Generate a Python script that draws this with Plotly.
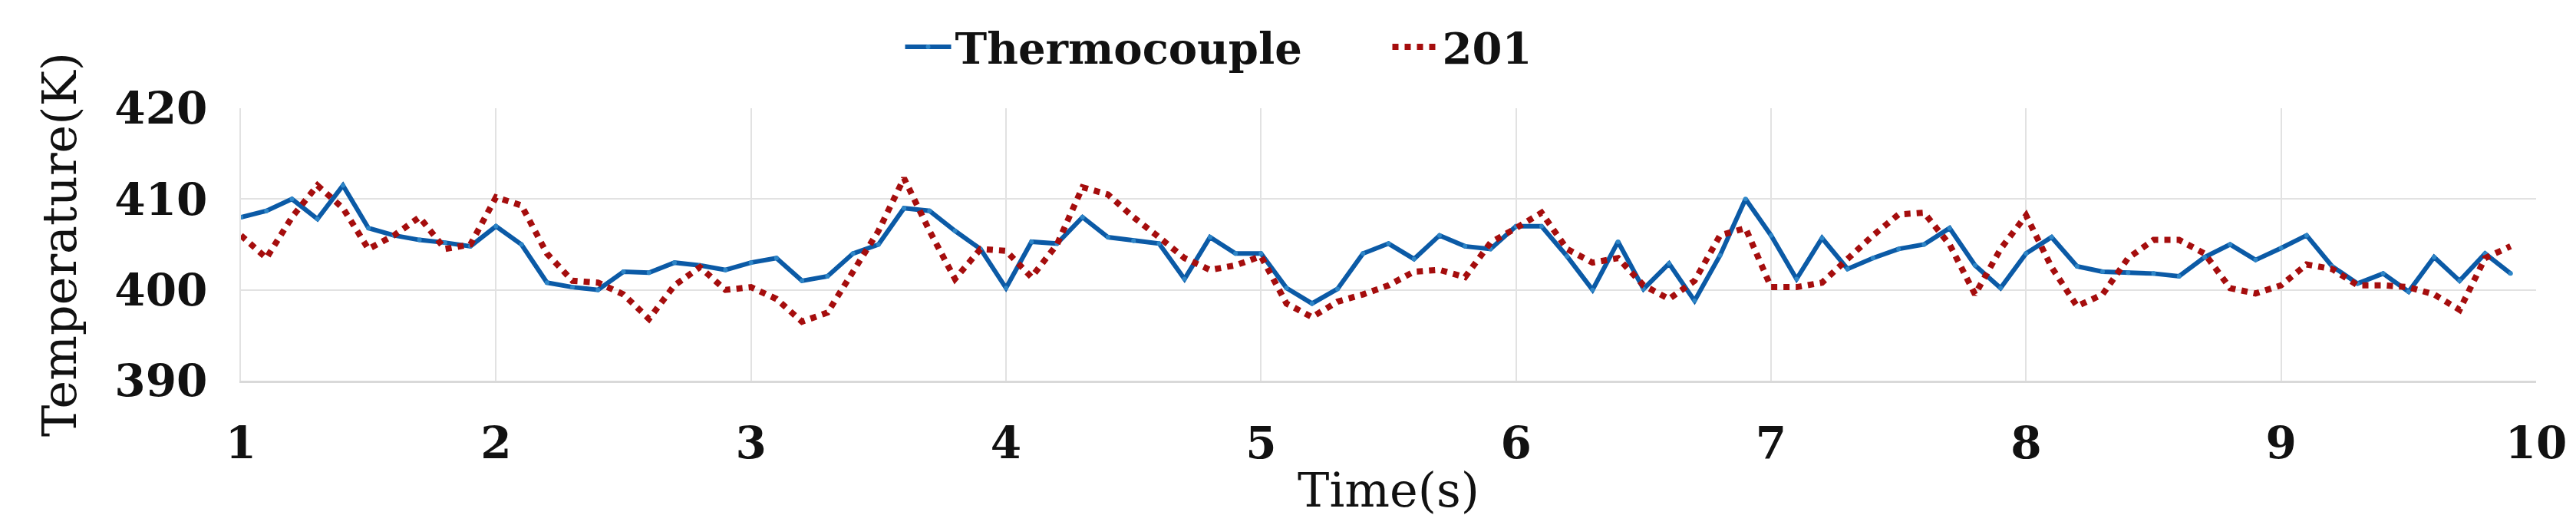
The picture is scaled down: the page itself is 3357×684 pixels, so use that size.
import plotly.graph_objects as go

time_s = [round(1 + 0.1 * i, 1) for i in range(90)]
thermocouple = [408, 408.7, 410, 407.8, 411.5, 406.8, 406, 405.5, 405.2, 404.8,
                407, 405, 400.8, 400.3, 400, 402, 401.9, 403, 402.7, 402.2,
                403, 403.5, 401, 401.5, 404, 405, 409, 408.7, 406.5, 404.5,
                400.2, 405.3, 405.1, 408, 405.8, 405.4, 405.1, 401.2, 405.8, 404,
                404, 400.2, 398.5, 400.1, 404, 405.1, 403.4, 406, 404.8, 404.5,
                407, 407, 403.7, 400, 405.3, 400.1, 402.9, 398.8, 403.8, 410,
                406, 401.2, 405.7, 402.3, 403.5, 404.5, 405, 406.8, 402.7, 400.2,
                404, 405.8, 402.6, 402, 401.9, 401.8, 401.5, 403.6, 405, 403.3,
                404.6, 406, 402.6, 400.7, 401.8, 399.8, 403.6, 401, 404, 401.8]
sim_201 = [406, 403.5, 408, 411.5, 409, 404.5, 406, 408, 404.5, 405,
           410.2, 409.3, 404, 401, 400.8, 399.5, 396.8, 400.5, 402.5, 400,
           400.3, 399, 396.5, 397.5, 402, 406.5, 412.3, 406.5, 401.2, 404.5,
           404.3, 401.4, 405, 411.3, 410.5, 408, 405.8, 403.5, 402.2, 402.7,
           403.7, 398.5, 397, 398.7, 399.5, 400.5, 402, 402.2, 401.4, 405.2,
           406.8, 408.5, 404.5, 403, 403.5, 400.5, 399, 401, 406, 406.8,
           400.3, 400.3, 400.8, 403.5, 406, 408.3, 408.5, 405, 399.5, 404.5,
           408.2, 402.5, 398.2, 399.5, 403.5, 405.5, 405.5, 404, 400.2, 399.6,
           400.5, 402.8, 402.3, 400.5, 400.5, 400.3, 399.5, 397.8, 403.5, 404.8]
x_ticks = [1, 2, 3, 4, 5, 6, 7, 8, 9, 10]
y_ticks = [390, 400, 410, 420]

font = "DejaVu Serif"
fig = go.Figure()
fig.add_trace(go.Scatter(x=time_s, y=thermocouple, name="<b>Thermocouple</b>",
                         mode="lines+markers",
                         line=dict(color="#0B5AA6", width=6),
                         marker=dict(color="#2E86C8", size=6)))
fig.add_trace(go.Scatter(x=time_s, y=sim_201, name="<b>201</b>", mode="lines",
                         line=dict(color="#A50D0D", width=8, dash="dot")))
fig.update_layout(
    width=3357, height=684, plot_bgcolor="white", paper_bgcolor="white",
    margin=dict(l=306, r=60, t=133, b=196, autoexpand=False),
    font=dict(family=font, color="#111", size=56),
    legend=dict(orientation="h", x=0.5, xanchor="center", y=1.225, yanchor="middle",
                font=dict(size=56, family=font), itemwidth=60, entrywidth=560),
    xaxis=dict(range=[1, 10], tickvals=x_ticks, showgrid=True, gridcolor="#E2E2E2",
               gridwidth=2, showline=True, linecolor="#D9D9D9", linewidth=3,
               ticks="", ticklabelstandoff=28, zeroline=False, automargin=False,
               tickfont=dict(size=58, family=font, weight="bold"),
               title=dict(text="Time(s)", font=dict(size=62, family=font), standoff=8)),
    yaxis=dict(range=[390, 420], tickvals=y_ticks, showgrid=True, gridcolor="#E2E2E2",
               gridwidth=2, showline=True, linecolor="#E2E2E2", linewidth=2,
               ticks="", ticklabelstandoff=30, zeroline=False, automargin=False,
               tickfont=dict(size=58, family=font, weight="bold"),
               title=dict(text="Temperature(K)", font=dict(size=62, family=font), standoff=30)),
)
fig.write_html("out.html")
